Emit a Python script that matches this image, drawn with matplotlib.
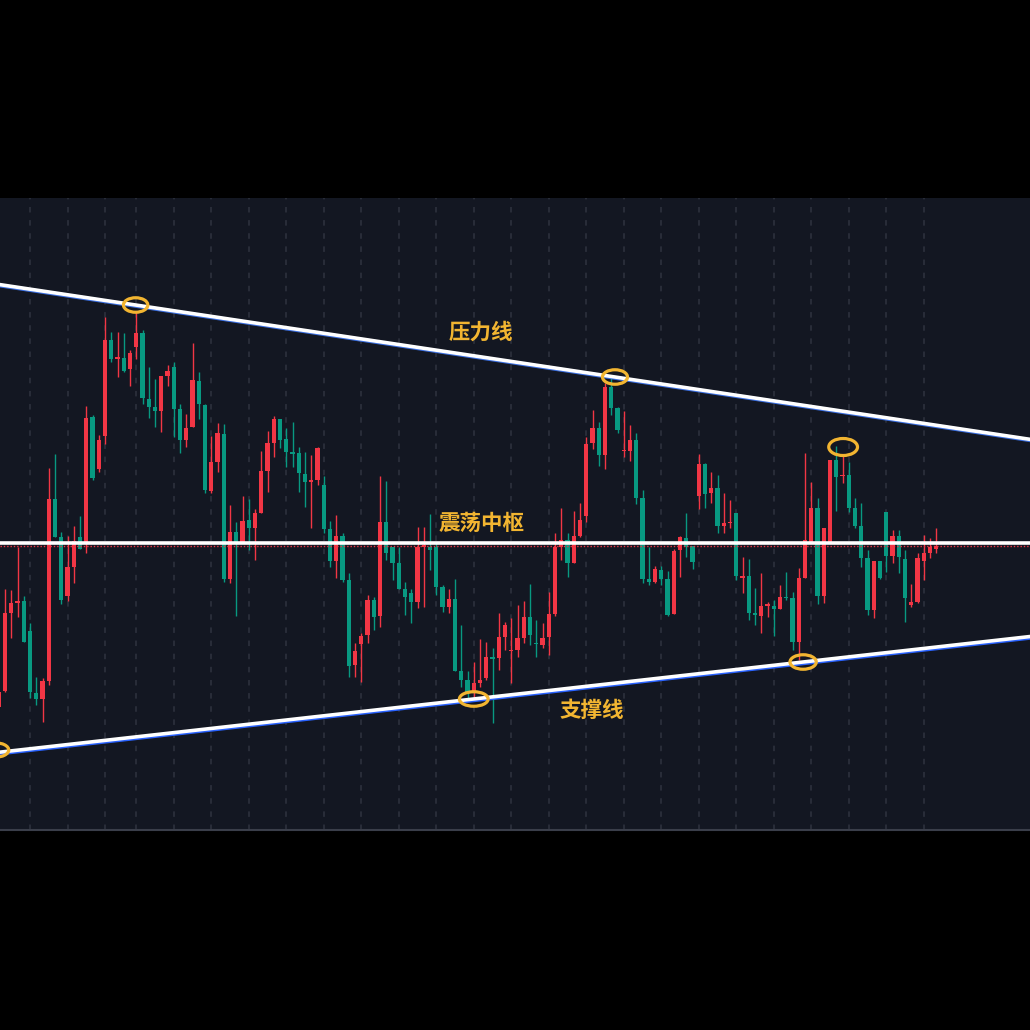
import matplotlib.pyplot as plt
import matplotlib.patheffects as pe
from matplotlib.patches import Ellipse
import numpy as np

plt.rcParams['font.family'] = ['Noto Sans CJK SC', 'DejaVu Sans']

# K线数据 (开, 高, 低, 收)
opens = [12.3, 13.9, 21.7, 22.7, 22.9, 19.9, 13.7, 13.1, 14.9, 33.1,
         29.3, 23.4, 26.3, 29.3, 28.8, 41.3, 36.1, 39.4, 49.0, 47.1,
         47.2, 46.1, 48.3, 49.7, 43.1, 42.3, 41.9, 45.4, 46.3, 42.1,
         39.0, 40.3, 44.9, 42.5, 33.9, 36.8, 39.6, 25.1, 29.8, 28.8,
         31.0, 30.2, 31.7, 35.9, 38.7, 41.1, 39.1, 37.8, 37.7, 35.6,
         34.8, 35.0, 34.5, 30.1, 26.9, 29.4, 25.0, 16.5, 18.6, 19.5,
         23.0, 21.4, 30.8, 28.3, 26.7, 24.1, 23.7, 22.8, 28.3, 28.3,
         28.3, 24.3, 22.3, 23.1, 15.9, 15.0, 13.7, 14.7, 15.2, 17.3,
         17.2, 19.3, 17.9, 18.0, 19.2, 21.3, 18.6, 18.5, 19.3, 21.6,
         28.3, 29.0, 26.7, 29.4, 31.4, 38.7, 40.2, 37.5, 44.3, 42.2,
         37.9, 37.9, 39.0, 33.2, 25.1, 24.8, 26.0, 25.1, 21.6, 28.0,
         29.2, 28.4, 33.4, 36.6, 33.7, 34.2, 30.4, 30.7, 31.7, 25.2,
         25.4, 21.7, 21.4, 22.4, 22.4, 22.1, 23.2, 23.2, 18.8, 25.2,
         28.8, 32.2, 23.4, 28.8, 37.0, 35.4, 35.5, 32.2, 30.4, 27.2,
         22.0, 26.9, 31.8, 27.4, 29.4, 27.1, 22.5, 22.8, 26.9, 27.7,
         28.1]
highs = [17.3, 24.1, 24.0, 28.3, 23.4, 20.7, 15.3, 15.2, 36.2, 37.6,
         29.8, 29.4, 30.4, 31.4, 42.4, 41.5, 39.5, 51.3, 49.8, 49.8,
         49.7, 48.0, 51.8, 50.0, 46.3, 45.1, 45.4, 46.5, 46.8, 42.6,
         41.6, 48.7, 45.8, 42.6, 39.4, 40.7, 40.6, 32.5, 30.8, 33.4,
         33.1, 32.1, 37.9, 39.9, 41.4, 41.1, 40.2, 40.8, 38.3, 37.8,
         37.5, 38.3, 35.4, 30.9, 31.5, 29.7, 25.7, 18.7, 19.7, 23.5,
         23.3, 35.4, 34.9, 28.3, 28.3, 24.8, 24.1, 30.3, 30.3, 31.6,
         28.7, 24.5, 24.1, 25.1, 20.5, 15.9, 16.8, 19.1, 18.8, 18.2,
         21.7, 20.8, 21.2, 22.5, 22.9, 24.6, 21.0, 20.7, 23.8, 29.7,
         32.2, 29.7, 31.9, 32.7, 39.3, 42.0, 40.8, 44.7, 45.5, 42.3,
         41.9, 40.5, 39.7, 34.0, 28.3, 26.4, 26.4, 25.9, 28.1, 29.4,
         31.7, 28.4, 37.6, 36.7, 35.8, 35.5, 33.7, 33.0, 31.7, 27.3,
         27.1, 24.2, 25.7, 22.8, 23.0, 24.5, 25.8, 23.8, 26.2, 37.7,
         34.8, 33.2, 30.2, 37.0, 38.4, 37.6, 36.8, 33.2, 32.7, 28.0,
         26.9, 26.9, 31.8, 30.0, 30.0, 28.0, 24.6, 27.7, 29.5, 29.2,
         30.2]
lows = [9.0, 13.8, 19.2, 21.3, 18.8, 13.2, 12.5, 10.8, 14.5, 29.3,
        22.6, 22.9, 24.7, 28.1, 27.7, 35.0, 35.8, 38.6, 46.8, 45.3,
        45.8, 44.4, 47.1, 42.6, 41.2, 40.3, 39.8, 44.4, 39.3, 37.7,
        38.3, 40.3, 41.1, 33.7, 33.7, 35.8, 24.8, 24.7, 21.4, 28.8,
        28.0, 27.0, 31.7, 33.8, 37.3, 38.2, 36.3, 36.3, 33.8, 32.3,
        30.2, 34.5, 29.7, 26.3, 25.2, 24.8, 15.3, 15.3, 14.8, 18.7,
        20.0, 20.3, 27.0, 25.0, 24.1, 21.5, 20.7, 22.2, 22.3, 26.0,
        23.5, 21.8, 21.7, 15.9, 14.3, 13.0, 13.0, 14.3, 15.0, 10.7,
        16.0, 18.0, 14.7, 17.3, 18.7, 18.5, 17.3, 18.2, 17.5, 21.4,
        27.0, 25.3, 26.7, 29.3, 30.8, 38.1, 36.4, 36.1, 41.5, 39.7,
        37.3, 36.9, 32.6, 24.7, 24.5, 24.7, 24.5, 21.4, 21.6, 25.3,
        27.3, 26.1, 32.1, 32.2, 32.7, 29.7, 29.7, 30.2, 25.0, 23.7,
        21.0, 20.5, 19.7, 21.3, 19.4, 22.1, 23.0, 18.0, 17.0, 25.2,
        28.8, 22.6, 22.7, 28.8, 31.9, 34.7, 31.8, 30.2, 26.3, 21.5,
        21.2, 25.1, 25.8, 26.7, 25.7, 20.8, 22.3, 22.7, 25.0, 27.2,
        27.7]
closes = [13.8, 21.7, 22.7, 22.9, 18.8, 13.8, 13.1, 14.9, 33.1, 29.3,
          23.0, 26.3, 28.9, 28.1, 41.2, 35.2, 39.0, 49.0, 47.1, 47.3,
          45.9, 47.7, 49.7, 43.2, 42.3, 41.9, 45.4, 45.9, 42.1, 39.0,
          40.2, 45.0, 42.6, 34.0, 36.8, 39.7, 25.1, 29.8, 28.8, 30.9,
          30.2, 31.7, 35.9, 38.7, 41.1, 39.0, 37.8, 37.6, 35.7, 34.8,
          35.0, 38.2, 30.1, 26.9, 29.4, 25.0, 16.4, 17.9, 19.4, 23.0,
          21.3, 30.8, 27.7, 26.7, 24.1, 23.3, 22.8, 28.3, 28.5, 28.0,
          24.3, 22.3, 23.1, 15.9, 15.0, 13.7, 14.7, 15.0, 17.3, 17.1,
          19.3, 20.5, 18.0, 19.2, 21.3, 19.5, 18.5, 19.2, 21.6, 28.3,
          29.0, 26.7, 29.4, 31.0, 38.6, 40.2, 37.5, 44.3, 42.2, 40.0,
          38.0, 39.0, 33.2, 25.1, 24.8, 26.1, 25.1, 21.5, 27.9, 29.3,
          28.3, 26.8, 36.6, 33.6, 34.2, 30.4, 30.7, 30.8, 25.4, 25.4,
          21.7, 21.5, 22.4, 22.6, 22.1, 23.3, 23.1, 18.8, 25.2, 29.0,
          32.2, 23.4, 30.2, 37.0, 35.3, 35.5, 32.2, 30.4, 27.2, 22.0,
          26.9, 25.2, 27.4, 29.4, 27.3, 23.2, 22.8, 27.2, 27.7, 28.3,
          28.4]

# 竖向网格所在的K线序号
grid_idx = [5, 11, 17, 22, 28, 34, 40, 46, 52, 58, 64, 70, 76, 82, 88,
            94, 100, 106, 112, 118, 124, 130, 136, 142, 148]

# 趋势线锚点 (K线序号, 价格)
resist_pts = [(21.9, 52.5), (98.6, 45.3)]
support_pts = [(75.96, 13.1), (128.7, 16.8)]
pivot_level = 28.7

# 标记圈: 中心与大小
marks_x = [21.9, 98.6, 135.1, 76.0, 128.7, -0.6]
marks_y = [52.5, 45.3, 38.3, 13.1, 16.8, 8.0]
marks_w = [3.9, 4.0, 4.6, 4.6, 4.2, 4.4]
marks_h = [1.45, 1.45, 1.7, 1.45, 1.45, 1.45]

labels = ['压力线', '震荡中枢', '支撑线']
label_x = [77.2, 77.2, 94.9]
label_y = [49.8, 30.7, 12.0]

UP = '#f23645'
DOWN = '#089981'
GOLD = '#f2b531'

fig = plt.figure(figsize=(10.3, 10.3), dpi=100, facecolor='black')
ax = fig.add_axes([0, 200 / 1030, 1, 632 / 1030])
ax.set_facecolor('#131722')

for g in grid_idx:
    ax.axvline(g, color='#2f3340', lw=1.1, dashes=(3.6, 5.0), zorder=0)

x = np.arange(len(opens))
o = np.array(opens)
c = np.array(closes)
colors = [UP if ci >= oi else DOWN for oi, ci in zip(o, c)]
ax.vlines(x, lows, highs, colors=colors, lw=1.0, zorder=2)
body = np.where(np.abs(c - o) < 0.12, 0.12, c - o)
ax.bar(x, body, bottom=o, width=0.7, color=colors, lw=0, zorder=3)

# 压力线 / 支撑线 (下沿带一点蓝边)
res_edge = [pe.Stroke(linewidth=2.9, foreground='#3b6fe0', offset=(0, -0.6)), pe.Normal()]
sup_edge = [pe.Stroke(linewidth=3.1, foreground='#2962ff', offset=(0, -0.8)), pe.Normal()]
ax.axline(resist_pts[0], resist_pts[1], color='white', lw=2.6, zorder=4, path_effects=res_edge)
ax.axline(support_pts[0], support_pts[1], color='white', lw=2.6, zorder=4, path_effects=sup_edge)

# 震荡中枢 + 最新价虚线
ax.axhline(closes[-1], color=UP, lw=1.0, dashes=(1, 1.4), zorder=4)
ax.axhline(pivot_level, color='white', lw=2.6, zorder=5)

for mx, my, mw, mh in zip(marks_x, marks_y, marks_w, marks_h):
    ax.add_patch(Ellipse((mx, my), mw, mh, fill=False, ec=GOLD, lw=2.3, zorder=6))

for t, tx, ty in zip(labels, label_x, label_y):
    ax.text(tx, ty, t, color=GOLD, fontsize=15.5, fontweight='bold',
            ha='center', va='center', zorder=7)

ax.set_xlim(0.2, 165.0)
ax.set_ylim(0, 63.2)
ax.set_xticks([])
ax.set_yticks([])
for s in ['top', 'left', 'right']:
    ax.spines[s].set_visible(False)
ax.spines['bottom'].set_color('#3a3e4a')
ax.spines['bottom'].set_linewidth(1.5)

fig.savefig('out.png', dpi=100, facecolor='black')
